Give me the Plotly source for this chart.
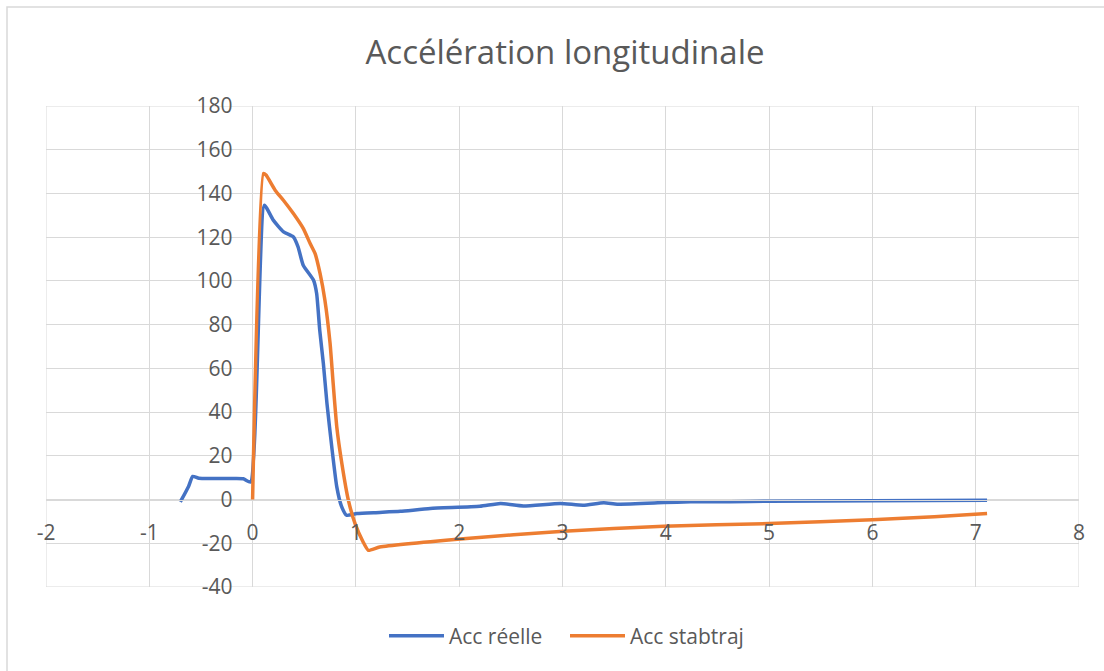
import plotly.graph_objects as go

# Data
reelle_x = [-0.70, -0.62, -0.58, -0.52, -0.40, -0.20, -0.09, -0.02, 0.114, 0.20, 0.30, 0.395, 0.44, 0.49,
            0.59, 0.62, 0.65, 0.685, 0.72, 0.77, 0.815, 0.86, 0.91, 1.01, 1.23, 1.43, 1.72, 2.2, 2.40,
            2.62, 2.98, 3.2, 3.4, 3.53, 3.98, 4.24, 4.62, 5.0, 6.01, 7.11]
reelle_y = [-1.1, 6.0, 10.6, 9.7, 9.6, 9.6, 9.5, 8.0, 134.6, 127.8, 122.4, 120.1, 115.6, 107.2,
            100.3, 94.2, 77.4, 62.2, 43.9, 22.6, 5.8, -3.0, -7.2, -6.4, -5.9, -5.4, -4.1, -3.1, -1.8,
            -2.9, -1.8, -2.6, -1.5, -2.1, -1.4, -1.0, -1.0, -0.8, -0.6, -0.3]

stab_x = [0, 0.105, 0.13, 0.218, 0.298, 0.395, 0.49, 0.557, 0.605, 0.653, 0.70, 0.75, 0.78, 0.815,
          0.864, 0.927, 0.992, 1.07, 1.12, 1.23, 2.04, 3.01, 3.98, 5.0, 6.0, 6.6, 7.11]
stab_y = [0, 149.1, 148.4, 141.5, 136.9, 130.8, 124.0, 117.1, 112.5, 103.4, 91.2, 71.4, 53.1, 33.2,
          16.5, -0.3, -11.0, -19.4, -23.2, -21.7, -17.9, -14.5, -12.2, -11.0, -9.2, -7.9, -6.4]

x_ticks = [-2, -1, 0, 1, 2, 3, 4, 5, 6, 7, 8]
y_ticks = [-40, -20, 0, 20, 40, 60, 80, 100, 120, 140, 160, 180]

FONT = "'Open Sans', Lato, sans-serif"
TXT = "#595959"
GRID = "#d9d9d9"

fig = go.Figure()
fig.add_trace(go.Scatter(x=reelle_x, y=reelle_y, mode="lines", name="Acc réelle",
                         line=dict(color="#4472C4", width=3.5, shape="spline", smoothing=0.5)))
fig.add_trace(go.Scatter(x=stab_x, y=stab_y, mode="lines", name="Acc stabtraj",
                         line=dict(color="#ED7D31", width=3.5, shape="spline", smoothing=0.5)))

W, H = 1104, 671
L, R, T, B = 46, 25, 106, 84
pw, ph = W - L - R, H - T - B

def px_to_paper_x(px):
    return (px - L) / pw

def py_to_paper_y(py):
    return (H - B - py) / ph

fig.update_layout(
    width=W, height=H,
    margin=dict(l=L, r=R, t=T, b=B),
    paper_bgcolor="white", plot_bgcolor="white",
    font=dict(family=FONT, color=TXT, size=21),
    title=dict(text="Accélération longitudinale", x=565 / W, xanchor="center",
               y=1 - 52 / H, yanchor="middle", yref="container",
               font=dict(size=33, color=TXT, family=FONT)),
    xaxis=dict(range=[-2, 8], tickvals=x_ticks, ticktext=[str(v) for v in x_ticks],
               showgrid=True, gridcolor=GRID, gridwidth=1,
               zeroline=True, zerolinecolor=GRID, zerolinewidth=1,
               showline=True, linecolor=GRID, linewidth=1,
               anchor="free", position=40 / 220, ticks="",
               ticklabelstandoff=14, tickfont=dict(size=21, color=TXT)),
    yaxis=dict(range=[-40, 180], tickvals=y_ticks, ticktext=[str(v) for v in y_ticks],
               showgrid=True, gridcolor=GRID, gridwidth=1,
               zeroline=True, zerolinecolor=GRID, zerolinewidth=1,
               showline=False,
               anchor="free", position=0.2, ticks="",
               ticklabelstandoff=20, tickfont=dict(size=21, color=TXT)),
    legend=dict(orientation="h", x=px_to_paper_x(565), xanchor="center", y=py_to_paper_y(636),
                yanchor="middle", font=dict(size=21, color=TXT), itemwidth=55,
                entrywidth=111, entrywidthmode="pixels", bgcolor="rgba(0,0,0,0)"),
    showlegend=True,
)

# plot-area outline (grid at range ends) and chart border
fig.add_shape(type="rect", xref="x", yref="y", x0=-2, x1=8, y0=-40, y1=180,
              line=dict(color=GRID, width=1), layer="below")
fig.add_shape(type="rect", xref="paper", yref="paper",
              x0=px_to_paper_x(7), x1=px_to_paper_x(1120),
              y0=py_to_paper_y(690), y1=py_to_paper_y(7),
              line=dict(color=GRID, width=1.5), layer="below")

fig.write_html("out.html")
